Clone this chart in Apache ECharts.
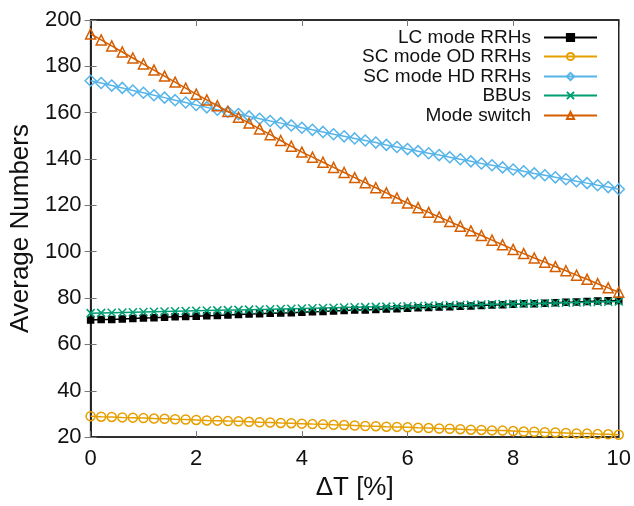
<!DOCTYPE html>
<html>
<head>
<meta charset="utf-8">
<script src="https://cdn.jsdelivr.net/npm/echarts@6/dist/echarts.min.js"></script>
<style>html,body{margin:0;padding:0;background:#fff;}#c{width:634px;height:506px;}</style>
</head>
<body>
<div id="c"></div>
<script>
var xValues = [0,0.2,0.4,0.6,0.8,1,1.2,1.4,1.6,1.8,2,2.2,2.4,2.6,2.8,3,3.2,3.4,3.6,3.8,4,4.2,4.4,4.6,4.8,5,5.2,5.4,5.6,5.8,6,6.2,6.4,6.6,6.8,7,7.2,7.4,7.6,7.8,8,8.2,8.4,8.6,8.8,9,9.2,9.4,9.6,9.8,10];
var lcModeRRHs = [70.5,70.7,70.8,71.0,71.2,71.4,71.5,71.7,71.9,72.0,72.2,72.4,72.5,72.7,72.9,73.1,73.2,73.4,73.6,73.7,73.9,74.1,74.2,74.4,74.6,74.8,74.9,75.1,75.3,75.4,75.6,75.8,75.9,76.1,76.3,76.5,76.6,76.8,77.0,77.1,77.3,77.5,77.6,77.8,78.0,78.2,78.3,78.5,78.7,78.8,79.0];
var scModeODRRHs = [29.0,28.8,28.7,28.5,28.4,28.2,28.0,27.9,27.7,27.6,27.4,27.2,27.1,26.9,26.8,26.6,26.4,26.3,26.1,26.0,25.8,25.6,25.5,25.3,25.2,25.0,24.8,24.7,24.5,24.4,24.2,24.0,23.9,23.7,23.6,23.4,23.2,23.1,22.9,22.8,22.6,22.4,22.3,22.1,22.0,21.8,21.6,21.5,21.3,21.2,21.0];
var scModeHDRRHs = [173.8,172.8,171.7,170.7,169.6,168.6,167.5,166.5,165.4,164.4,163.3,162.3,161.3,160.4,159.4,158.4,157.4,156.4,155.5,154.5,153.5,152.6,151.7,150.7,149.8,148.9,148.0,147.1,146.1,145.2,144.3,143.4,142.5,141.7,140.8,139.9,139.0,138.1,137.3,136.4,135.5,134.7,133.8,133.0,132.1,131.3,130.4,129.6,128.7,127.9,127.0];
var bbus = [73.5,73.6,73.7,73.8,73.9,74.0,74.1,74.2,74.3,74.4,74.5,74.6,74.7,74.8,74.9,75.0,75.1,75.2,75.3,75.4,75.5,75.6,75.7,75.8,75.9,76.0,76.1,76.2,76.3,76.4,76.5,76.6,76.7,76.8,76.9,77.0,77.1,77.2,77.3,77.4,77.5,77.6,77.7,77.8,77.9,78.0,78.1,78.2,78.3,78.4,78.5];
var modeSwitch = [194.0,191.4,188.8,186.2,183.6,181.0,178.4,175.8,173.2,170.6,168.0,165.5,163.0,160.5,158.0,155.5,153.0,150.5,148.0,145.5,143.0,140.8,138.6,136.4,134.2,132.0,129.8,127.6,125.4,123.2,121.0,119.0,117.0,115.0,113.0,111.0,109.0,107.0,105.0,103.0,101.0,99.2,97.3,95.5,93.6,91.8,89.9,88.1,86.2,84.4,82.5];
var seriesNames = ['LC mode RRHs','SC mode OD RRHs','SC mode HD RRHs','BBUs','Mode switch'];
var xTicks = [0,2,4,6,8,10];
var yTicks = [20,40,60,80,100,120,140,160,180,200];

var FONT = '"Liberation Sans", Arial, sans-serif';
function pairs(ys){ return xValues.map(function(x,i){ return [x, ys[i]]; }); }
var styles = [
  {color:'#000000', symbol:'rect', size:6, fill:'#000000'},
  {color:'#E69F00', symbol:'circle', size:9, fill:'rgba(0,0,0,0)'},
  {color:'#56B4E9', symbol:'diamond', size:11, fill:'rgba(0,0,0,0)'},
  {color:'#009E73', symbol:'path://M0,0L10,10M10,0L0,10', size:8, fill:'rgba(0,0,0,0)'},
  {color:'#D55E00', symbol:'triangle', size:10, fill:'rgba(0,0,0,0)'}
];
var datas = [lcModeRRHs, scModeODRRHs, scModeHDRRHs, bbus, modeSwitch];
var series = seriesNames.map(function(n,i){
  var s = styles[i];
  return {
    name:n, type:'line', data:pairs(datas[i]),
    symbol:s.symbol, symbolSize:s.size, showAllSymbol:true,
    lineStyle:{color:s.color, width:1.5},
    itemStyle:{color:s.fill, borderColor:s.color, borderWidth:1.5},
    z: 2+i, animation:false
  };
});
var legendTops = [36,55,75,94,114];
var legends = seriesNames.map(function(n,i){
  return {
    data:[n], right:36, top:legendTops[i]-8, align:'right', orient:'horizontal',
    itemWidth:53, itemHeight:9, padding:0,
    textStyle:{fontFamily:FONT, fontSize:19, color:'#111', padding:[0,8,0,0]}
  };
});
var chart = echarts.init(document.getElementById('c'));
chart.setOption({
  backgroundColor:'#fff',
  animation:false,
  grid:{left:89, right:15, top:20, bottom:63, show:true, borderColor:'#222', borderWidth:1.5, containLabel:false},
  legend: legends,
  xAxis:[{
    type:'value', min:0, max:10, interval:2, position:'bottom',
    name:'ΔT [%]', nameLocation:'middle', nameGap:35,
    nameTextStyle:{fontFamily:FONT, fontSize:26, color:'#111'},
    axisLine:{show:true, lineStyle:{color:'#222', width:1.5}},
    axisTick:{show:true, inside:true, length:6, lineStyle:{color:'#777'}},
    axisLabel:{fontFamily:FONT, fontSize:22, color:'#111', margin:11, formatter:function(v){return xTicks.indexOf(v)>=0?String(v):'';}},
    splitLine:{show:false}
  },{
    type:'value', min:0, max:10, interval:2, position:'top',
    axisLine:{show:true, lineStyle:{color:'#222', width:1.5}},
    axisTick:{show:true, inside:true, length:6, lineStyle:{color:'#777'}},
    axisLabel:{show:false}, splitLine:{show:false}
  }],
  yAxis:[{
    type:'value', min:20, max:200, interval:20, position:'left',
    name:'Average Numbers', nameLocation:'middle', nameGap:54,
    nameTextStyle:{fontFamily:FONT, fontSize:26, color:'#111'},
    axisLine:{show:true, lineStyle:{color:'#222', width:1.5}},
    axisTick:{show:true, inside:true, length:6, lineStyle:{color:'#777'}},
    axisLabel:{fontFamily:FONT, fontSize:22, color:'#111', margin:9, formatter:function(v){return yTicks.indexOf(v)>=0?String(v):'';}},
    splitLine:{show:false}
  },{
    type:'value', min:20, max:200, interval:20, position:'right',
    axisLine:{show:true, lineStyle:{color:'#222', width:1.5}},
    axisTick:{show:true, inside:true, length:6, lineStyle:{color:'#777'}},
    axisLabel:{show:false}, splitLine:{show:false}
  }],
  series: series
});
</script>
</body>
</html>
